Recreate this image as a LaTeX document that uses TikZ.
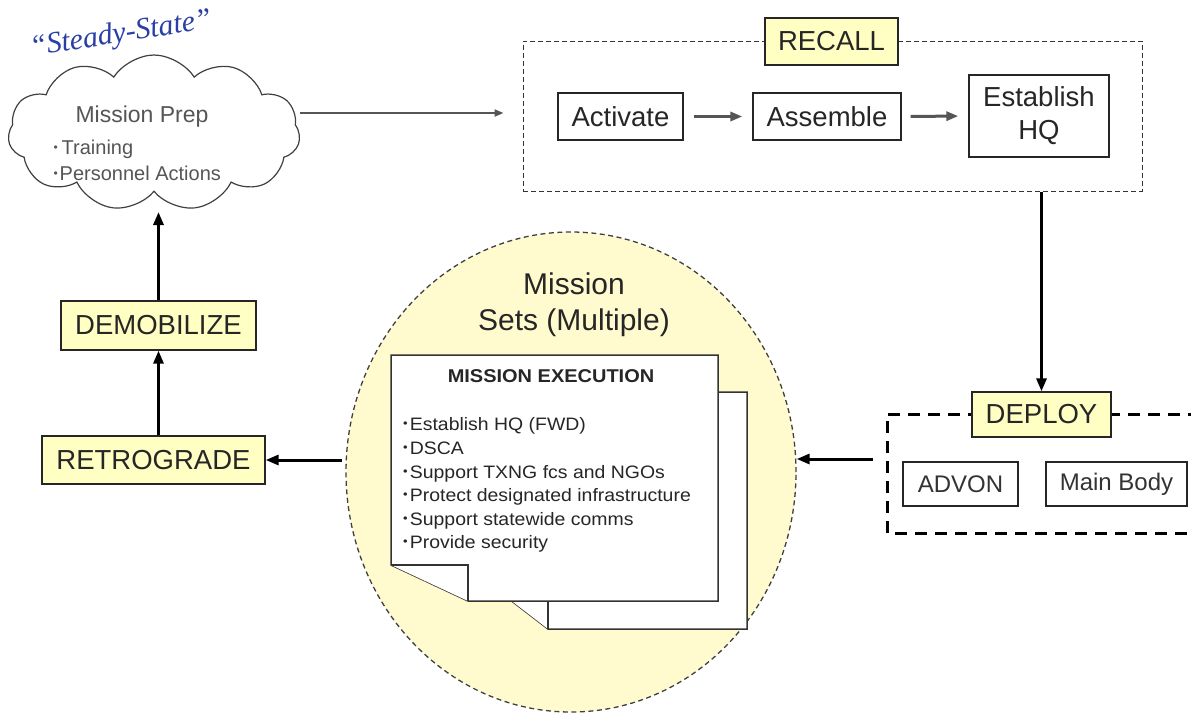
\documentclass[tikz,border=0pt]{standalone}
\usepackage{fontspec}
\setmainfont{Liberation Sans}
\newfontfamily\ssfont{Liberation Serif}
\usetikzlibrary{shapes.symbols,shapes.geometric,arrows.meta}
\definecolor{boxyellow}{HTML}{FFFFC4}
\definecolor{ellyellow}{HTML}{FFFBCF}
\definecolor{txtgray}{HTML}{555555}
\definecolor{ssblue}{HTML}{2A3FA6}
\definecolor{linegray}{HTML}{555555}
\newcommand{\mybul}{\raisebox{0.14em}{\fontsize{12}{12}\selectfont •}}
\tikzset{
  fs/.style={font=\fontsize{#1}{#1}\selectfont},
  stepbox/.style={draw=black!85, line width=1.3pt, fill=white, text=black!85, fs=27.5, inner sep=0pt},
  lblbox/.style={draw=black!85, line width=1.3pt, fill=boxyellow, text=black!85, fs=27.5, inner sep=0pt},
  subbox/.style={draw=black!85, line width=1.3pt, fill=white, text=black!80, fs=24, inner sep=0pt},
  grayarrow/.style={draw=linegray, line width=3pt, -{Triangle[length=12pt,width=9pt]}},
  thinarrow/.style={draw=linegray, line width=2pt, -{Triangle[length=9pt,width=7pt]}},
  blackarrow/.style={draw=black, line width=3pt, -{Triangle[length=13pt,width=10pt]}},
  page/.style={draw=black!80, line width=1.5pt, fill=white, line join=miter},
  item/.style={anchor=base west, fs=18, text=black!85, inner sep=0pt},
}
\begin{document}
\begin{tikzpicture}[x=1pt,y=-1pt]
\fill[white] (0,0) rectangle (1191,713);
\useasboundingbox (0,0) rectangle (1191,713);

% ---- cloud ----
\node[cloud, cloud puffs=11, cloud puff arc=115, aspect=1.9, draw=black!75, line width=1.2pt, fill=white,
      minimum width=292pt, minimum height=156pt, inner sep=0pt] (cloud) at (154,133) {};
\node[rotate=9, text=ssblue, font=\ssfont\itshape\fontsize{30}{30}\selectfont] (steady) at (121,35) {“Steady-State”};
\node[text=txtgray, fs=23] (mprep) at (142,117) {Mission Prep};
\node[anchor=base west, text=txtgray, fs=20] (train) at (50,154) {\mybul\hspace{4pt}Training};
\node[anchor=base west, text=txtgray, fs=20] (pers) at (50,180) {\mybul\hspace{2pt}Personnel Actions};

% ---- recall ----
\node[draw=black!80, line width=1pt, dash pattern=on 5pt off 3pt, minimum width=619pt, minimum height=150pt] (recall) at (832.5,116) {};
\node[lblbox, minimum width=133pt, minimum height=47pt] (recalllbl) at (831.5,41.5) {RECALL};
\node[stepbox, minimum width=125pt, minimum height=47pt] (act) at (620.5,116.5) {Activate};
\node[stepbox, minimum width=148pt, minimum height=47pt] (asm) at (827,116.5) {Assemble};
\node[stepbox, minimum width=140pt, minimum height=82pt, align=center, font=\fontsize{27.5}{33}\selectfont] (hq) at (1039,116) {Establish\\HQ};

% ---- deploy ----
\draw[black, line width=3pt, dash pattern=on 12pt off 8pt] (1200,414) -- (887,414) -- (887,533) -- (1200,533);
\coordinate (dcon) at (873,459);
\node[lblbox, minimum width=139pt, minimum height=45pt] (deploy) at (1041.5,414.5) {DEPLOY};
\node[subbox, minimum width=115pt, minimum height=44pt] (advon) at (960.5,484) {ADVON};
\node[subbox, minimum width=141pt, minimum height=44pt] (mainbody) at (1116.5,484) {Main Body};

% ---- mission sets ----
\node[ellipse, draw=black!75, line width=1.3pt, dash pattern=on 5pt off 3.5pt, fill=ellyellow,
      minimum width=450pt, minimum height=480pt, inner sep=0pt] (ell) at (571,472) {};
\node[align=center, text=black!85, font=\fontsize{30}{36}\selectfont] (msets) at (574,305) {Mission\\Sets (Multiple)};

\draw[page] (500,392) -- (747,392) -- (747,629) -- (548,629) -- (500,592) -- cycle;
\draw[page] (500,592) -- (548,592) -- (548,629);
\draw[page] (391,355) -- (718,355) -- (718,601) -- (468,601) -- (391,565) -- cycle;
\draw[page] (391,565) -- (468,565) -- (468,601);

\node[text=black!85, font=\bfseries\fontsize{18.5}{18.5}\selectfont] (mexec) at (551,376) {\scalebox{1.08}[1]{MISSION EXECUTION}};
\node[item] (m1) at (403,430) {\scalebox{1.08}[1]{\mybul\hspace{2pt}Establish HQ (FWD)}};
\node[item] (m2) at (403,454) {\scalebox{1.08}[1]{\mybul\hspace{2pt}DSCA}};
\node[item] (m3) at (403,478) {\scalebox{1.08}[1]{\mybul\hspace{2pt}Support TXNG fcs and NGOs}};
\node[item] (m4) at (403,501) {\scalebox{1.08}[1]{\mybul\hspace{2pt}Protect designated infrastructure}};
\node[item] (m5) at (403,525) {\scalebox{1.08}[1]{\mybul\hspace{2pt}Support statewide comms}};
\node[item] (m6) at (403,548) {\scalebox{1.08}[1]{\mybul\hspace{2pt}Provide security}};

% ---- left column ----
\node[lblbox, minimum width=195pt, minimum height=49pt] (demob) at (158.5,325.5) {DEMOBILIZE};
\node[lblbox, minimum width=223pt, minimum height=48pt] (retro) at (153.5,460) {RETROGRADE};
\coordinate (cloudb) at (158.5,212);
\coordinate (cloude) at (300,113);

% ---- connectors ----
\draw[thinarrow, shorten >=19pt] (cloude) -- (recall.west |- cloude);
\draw[grayarrow, shorten <=10pt, shorten >=10pt] (act.east) -- (asm.west);
\draw[grayarrow, shorten <=9pt, shorten >=10pt] (asm.east) -- (hq.west);
\draw[blackarrow] (recall.south -| deploy.north) -- (deploy.north);
\draw[blackarrow] (dcon) -- (ell.east |- dcon);
\draw[blackarrow, shorten <=3pt] (retro.east -| ell.west) -- (retro.east);
\draw[blackarrow] (demob.south |- retro.north) -- (demob.south);
\draw[blackarrow] (demob.north) -- (cloudb);
\end{tikzpicture}
\end{document}
